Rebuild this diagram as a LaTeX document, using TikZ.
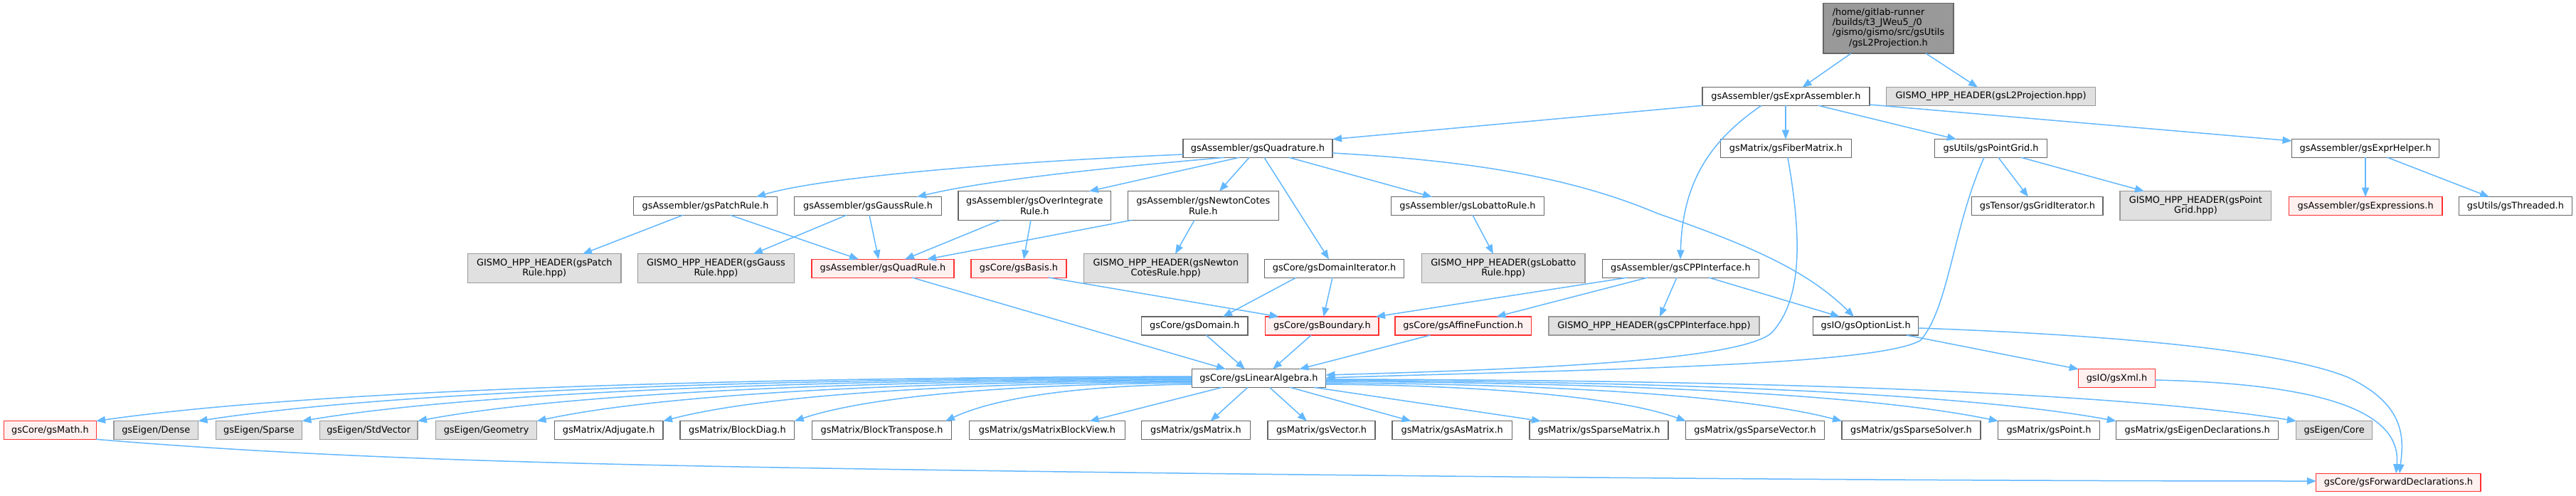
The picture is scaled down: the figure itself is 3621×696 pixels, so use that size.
\documentclass[tikz,border=0pt]{standalone}
\usepackage{fontspec}
\setmainfont{DejaVu Sans}
\usetikzlibrary{arrows.meta}
\definecolor{edgec}{HTML}{63B8FF}
\definecolor{wborder}{HTML}{666666}
\definecolor{gfill}{HTML}{E0E0E0}
\definecolor{gborder}{HTML}{999999}
\definecolor{rfill}{HTML}{FFF0F0}
\definecolor{rborder}{HTML}{FF3030}
\definecolor{rootfill}{HTML}{999999}
\newcommand\nfs{\fontsize{12.9pt}{14.4pt}\selectfont}
\begin{document}
\begin{tikzpicture}[x=1pt,y=-1pt,
  box/.style={rectangle, draw, line width=1.1pt, inner sep=0pt, outer sep=0pt, font=\nfs, align=center},
  wb/.style={box, draw=wborder, fill=white},
  gb/.style={box, draw=gborder, fill=gfill},
  rb/.style={box, draw=rborder, fill=rfill},
  rootb/.style={box, draw=wborder, fill=rootfill},
  sz/.style 2 args={minimum width=#1pt, minimum height=#2pt},
  edge/.style={draw=edgec, line width=1.5pt, -{Triangle[length=13pt,width=10pt]}}]
\fill[white] (0,0) rectangle (3621,696);
\useasboundingbox (0,0) rectangle (3621,696);
% row 0
\node[rootb, sz={183}{70.3}] (root) at (2654.5,39.85) {\begin{tabular}{@{}l@{}}/home/gitlab-runner\\/builds/t3\_JWeu5\_/0\\/gismo/gismo/src/gsUtils\\\multicolumn{1}{@{}c@{}}{/gsL2Projection.h}\end{tabular}};
% row A
\node[wb, sz={235}{25.6}] (expr) at (2510.5,135.5) {gsAssembler/gsExprAssembler.h};
\node[gb, sz={293.7}{25.6}] (gisl2) at (2798.65,135.5) {GISMO\_HPP\_HEADER(gsL2Projection.hpp)};
% row B
\node[wb, sz={210}{25.6}] (quad) at (1768,208.5) {gsAssembler/gsQuadrature.h};
\node[wb, sz={183.8}{25.6}] (fiber) at (2510.4,208.5) {gsMatrix/gsFiberMatrix.h};
\node[wb, sz={158}{25.6}] (pgrid) at (2798.6,208.5) {gsUtils/gsPointGrid.h};
\node[wb, sz={207.3}{25.6}] (helper) at (3325.15,208.5) {gsAssembler/gsExprHelper.h};
% row C
\node[wb, sz={201.5}{25.6}] (patch) at (991.55,289.5) {gsAssembler/gsPatchRule.h};
\node[wb, sz={207.1}{25.6}] (gauss) at (1220.05,289.5) {gsAssembler/gsGaussRule.h};
\node[wb, sz={214.5}{40.6}] (overint) at (1454.25,289) {gsAssembler/gsOverIntegrate\\Rule.h};
\node[wb, sz={211.8}{40.6}] (newton) at (1691.3,289) {gsAssembler/gsNewtonCotes\\Rule.h};
\node[wb, sz={214.8}{25.6}] (lobatto) at (2063,289.5) {gsAssembler/gsLobattoRule.h};
\node[wb, sz={184.1}{25.6}] (griditer) at (2863.95,289.5) {gsTensor/gsGridIterator.h};
\node[gb, sz={212.7}{40.6}] (gpgrid) at (3086.35,289) {GISMO\_HPP\_HEADER(gsPoint\\Grid.hpp)};
\node[rb, sz={215.7}{25.6}] (expressions) at (3325.15,289.5) {gsAssembler/gsExpressions.h};
\node[wb, sz={158.6}{25.6}] (threaded) at (3535.9,289.5) {gsUtils/gsThreaded.h};
% row D
\node[gb, sz={215.3}{40.7}] (gpatch) at (765.35,377.2) {GISMO\_HPP\_HEADER(gsPatch\\Rule.hpp)};
\node[gb, sz={220.1}{40.7}] (ggauss) at (1006.45,377.2) {GISMO\_HPP\_HEADER(gsGauss\\Rule.hpp)};
\node[rb, sz={200}{25.7}] (qrule) at (1241,377.2) {gsAssembler/gsQuadRule.h};
\node[rb, sz={134}{25.7}] (basis) at (1432,377.2) {gsCore/gsBasis.h};
\node[gb, sz={230.4}{40.7}] (gnewton) at (1638.8,377.2) {GISMO\_HPP\_HEADER(gsNewton\\CotesRule.hpp)};
\node[wb, sz={195.9}{25.7}] (domit) at (1875.55,377.2) {gsCore/gsDomainIterator.h};
\node[gb, sz={229.5}{40.7}] (globatto) at (2113.25,377.2) {GISMO\_HPP\_HEADER(gsLobatto\\Rule.hpp)};
\node[wb, sz={219.8}{25.7}] (cpp) at (2362.4,377.2) {gsAssembler/gsCPPInterface.h};
% row E
\node[wb, sz={149.4}{26}] (domain) at (1679.3,458) {gsCore/gsDomain.h};
\node[rb, sz={159.2}{26}] (boundary) at (1858.4,458) {gsCore/gsBoundary.h};
\node[rb, sz={191.5}{26}] (affine) at (2056.75,458) {gsCore/gsAffineFunction.h};
\node[gb, sz={296}{26}] (gcpp) at (2325,458) {GISMO\_HPP\_HEADER(gsCPPInterface.hpp)};
\node[wb, sz={148}{26}] (optlist) at (2622.7,458) {gsIO/gsOptionList.h};
% row F
\node[wb, sz={188.2}{25.6}] (la) at (1769.4,531.5) {gsCore/gsLinearAlgebra.h};
\node[rb, sz={107.5}{25.6}] (xml) at (2975.45,531.5) {gsIO/gsXml.h};
% row G
\node[rb, sz={129.3}{25.6}] (math) at (70.45,604.5) {gsCore/gsMath.h};
\node[gb, sz={118.6}{25.6}] (dense) at (219.3,604.5) {gsEigen/Dense};
\node[gb, sz={121.1}{25.6}] (sparse) at (363.95,604.5) {gsEigen/Sparse};
\node[gb, sz={137.6}{25.6}] (stdvec) at (518.2,604.5) {gsEigen/StdVector};
\node[gb, sz={141.8}{25.6}] (geometry) at (683.6,604.5) {gsEigen/Geometry};
\node[wb, sz={152.6}{25.6}] (adjugate) at (855.7,604.5) {gsMatrix/Adjugate.h};
\node[wb, sz={160.8}{25.6}] (blockdiag) at (1036.4,604.5) {gsMatrix/BlockDiag.h};
\node[wb, sz={195.9}{25.6}] (blocktrans) at (1239.65,604.5) {gsMatrix/BlockTranspose.h};
\node[wb, sz={218.9}{25.6}] (mbv) at (1471.95,604.5) {gsMatrix/gsMatrixBlockView.h};
\node[wb, sz={152.6}{25.6}] (gsmatrix) at (1680.9,604.5) {gsMatrix/gsMatrix.h};
\node[wb, sz={151}{25.6}] (gsvector) at (1857.5,604.5) {gsMatrix/gsVector.h};
\node[wb, sz={168.3}{25.6}] (asmatrix) at (2041.15,604.5) {gsMatrix/gsAsMatrix.h};
\node[wb, sz={195}{25.6}] (spmat) at (2247.5,604.5) {gsMatrix/gsSparseMatrix.h};
\node[wb, sz={194.5}{25.6}] (spvec) at (2467.05,604.5) {gsMatrix/gsSparseVector.h};
\node[wb, sz={195}{25.6}] (spsolver) at (2686.5,604.5) {gsMatrix/gsSparseSolver.h};
\node[wb, sz={142.5}{25.6}] (point) at (2880.05,604.5) {gsMatrix/gsPoint.h};
\node[wb, sz={228.1}{25.6}] (eigdecl) at (3088.75,604.5) {gsMatrix/gsEigenDeclarations.h};
\node[gb, sz={106.6}{25.6}] (core) at (3281.1,604.5) {gsEigen/Core};
% row H
\node[rb, sz={231.2}{25.4}] (fd) at (3371.4,678) {gsCore/gsForwardDeclarations.h};
% edges
\draw[edge] (root.south -| 2602,0) -- (expr.north -| 2533.5,0);
\draw[edge] (root.south -| 2707,0) -- (gisl2.north -| 2780,0);
\draw[edge] (expr.south west) -- (quad.north east);
\draw[edge] (expr.south -| 2476,0) .. controls (2400,200) and (2365,260) .. (cpp.north -| 2362,0);
\draw[edge] (expr.south -| 2510,0) -- (fiber.north -| 2510,0);
\draw[edge] (expr.south -| 2556,0) -- (pgrid.north -| 2750,0);
\draw[edge] (expr.east |- 0,147) -- (helper.west |- 0,198);
\draw[edge] (quad.west |- 0,217) .. controls (1400,228) and (1150,250) .. (patch.north -| 1063,0);
\draw[edge] (quad.south -| 1721,0) .. controls (1600,232) and (1400,250) .. (gauss.north -| 1289,0);
\draw[edge] (quad.south -| 1742,0) -- (overint.north -| 1531,0);
\draw[edge] (quad.south -| 1756,0) -- (newton.north -| 1714,0);
\draw[edge] (quad.south -| 1777,0) -- (domit.north -| 1868,0);
\draw[edge] (quad.south -| 1812,0) -- (lobatto.north -| 2013,0);
\draw[edge] (quad.east |- 0,215) .. controls (2050,225) and (2200,245) .. (2330,300) .. controls (2460,345) and (2540,380) .. (optlist.north -| 2606,0);
\draw[edge] (patch.south -| 960,0) -- (gpatch.north -| 819,0);
\draw[edge] (patch.south -| 1026.5,0) -- (qrule.north -| 1207,0);
\draw[edge] (gauss.south -| 1190,0) -- (ggauss.north -| 1059,0);
\draw[edge] (gauss.south -| 1222,0) -- (qrule.north -| 1235,0);
\draw[edge] (overint.south -| 1406.5,0) -- (qrule.north -| 1272,0);
\draw[edge] (overint.south -| 1449,0) -- (basis.north -| 1439,0);
\draw[edge] (newton.south -| 1591,0) -- (qrule.north -| 1303,0);
\draw[edge] (newton.south -| 1679,0) -- (gnewton.north -| 1652,0);
\draw[edge] (lobatto.south -| 2070,0) -- (globatto.north -| 2099,0);
\draw[edge] (domit.south -| 1822,0) -- (domain.north -| 1719,0);
\draw[edge] (domit.south -| 1873,0) -- (boundary.north -| 1860.5,0);
\draw[edge] (basis.south -| 1474,0) -- (boundary.north -| 1797.5,0);
\draw[edge] (qrule.south -| 1282,0) -- (la.north -| 1723,0);
\draw[edge] (cpp.south -| 2287.6,0) -- (boundary.north -| 1934,0);
\draw[edge] (cpp.south -| 2316,0) -- (affine.north -| 2103.5,0);
\draw[edge] (cpp.south -| 2357,0) -- (gcpp.north -| 2333,0);
\draw[edge] (cpp.south -| 2402,0) -- (optlist.north -| 2586,0);
\draw[edge] (domain.south -| 1695.5,0) -- (la.north -| 1750,0);
\draw[edge] (boundary.south -| 1843,0) -- (la.north -| 1789,0);
\draw[edge] (affine.south -| 2010.5,0) -- (la.north -| 1826.5,0);
\draw[edge] (fiber.south -| 2513,0) .. controls (2532,330) and (2535,420) .. (2490,468) .. controls (2440,510) and (2100,520) .. (la.east |- 0,527);
\draw[edge] (pgrid.south -| 2789,0) .. controls (2745,320) and (2740,430) .. (2700,478) .. controls (2640,515) and (2200,520) .. (la.east |- 0,531);
\draw[edge] (pgrid.south -| 2809,0) -- (griditer.north -| 2851,0);
\draw[edge] (pgrid.south -| 2841,0) -- (gpgrid.north -| 3014,0);
\draw[edge] (helper.south -| 3325,0) -- (expressions.north -| 3325,0);
\draw[edge] (helper.south -| 3356,0) -- (threaded.north -| 3499,0);
\draw[edge] (optlist.south -| 2680,0) -- (xml.north west);
\draw[edge] (optlist.east |- 0,461) .. controls (2950,470) and (3200,490) .. (3300,530) .. controls (3385,570) and (3378,620) .. (fd.north -| 3373,0);
\draw[edge] (xml.east |- 0,534) .. controls (3300,540) and (3375,590) .. (fd.north -| 3368,0);
\draw[edge] (math.south east) .. controls (500,648) and (900,655) .. (1500,663) .. controls (2200,672) and (2800,676) .. (fd.west |- 0,676);
% fan left
\draw[edge] (la.west |- 0,529) .. controls (905,531) and (397,554) .. (math.north east);
\draw[edge] (la.west |- 0,530.5) .. controls (977,532.5) and (516,555) .. (dense.north east);
\draw[edge] (la.west |- 0,532) .. controls (1050,534) and (637,556) .. (sparse.north east);
\draw[edge] (la.west |- 0,533.5) .. controls (1131,535.5) and (772,556.8) .. (stdvec.north east);
\draw[edge] (la.west |- 0,535) .. controls (1215,537) and (911,557.7) .. (geometry.north east);
\draw[edge] (la.west |- 0,536.5) .. controls (1304,538.5) and (1058,558.6) .. (adjugate.north east);
\draw[edge] (la.west |- 0,538) .. controls (1396,540) and (1212,559.5) .. (blockdiag.north east);
\draw[edge] (la.west |- 0,540) .. controls (1506,542) and (1395,560.7) .. (blocktrans.north -| 1329,0);
% straight below
\draw[edge] (la.south -| 1718,0) -- (mbv.north -| 1531.6,0);
\draw[edge] (la.south -| 1754,0) -- (gsmatrix.north -| 1701.6,0);
\draw[edge] (la.south -| 1784.5,0) -- (gsvector.north -| 1837,0);
\draw[edge] (la.south -| 1813.5,0) -- (asmatrix.north -| 1983.5,0);
\draw[edge] (la.south -| 1846.7,0) -- (spmat.north -| 2166,0);
% fan right
\draw[edge] (la.east |- 0,540) .. controls (2116,542) and (2284,560.7) .. (spvec.north west);
\draw[edge] (la.east |- 0,538) .. controls (2226,540) and (2466,559.5) .. (spsolver.north west);
\draw[edge] (la.east |- 0,536) .. controls (2336,538) and (2648,558.3) .. (point.north west);
\draw[edge] (la.east |- 0,534.5) .. controls (2419,536) and (2786,557) .. (eigdecl.north west);
\draw[edge] (la.east |- 0,533) .. controls (2546,534) and (2996,555) .. (core.north west);
\end{tikzpicture}
\end{document}
